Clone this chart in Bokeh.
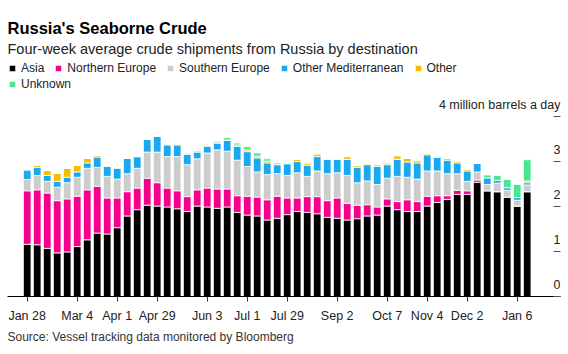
import pandas as pd
from bokeh.plotting import figure
from bokeh.models import (ColumnDataSource, Range1d, LinearAxis, FixedTicker,
                          Label, Legend, LegendItem, Title)
from bokeh.embed import file_html
from bokeh.resources import INLINE

# ---------------- data ----------------
weeks = pd.date_range("2022-01-28", periods=51, freq="7D")

asia = [1.16, 1.15, 1.07, 0.97, 0.99, 1.11, 1.26, 1.41, 1.39, 1.53,
        1.79, 1.93, 2.03, 2.01, 1.99, 1.95, 1.89, 2.01, 1.99, 1.96,
        1.99, 1.87, 1.81, 1.79, 1.70, 1.74, 1.82, 1.89, 1.87, 1.84,
        1.76, 1.74, 1.70, 1.73, 1.79, 1.81, 2.01, 1.93, 1.89, 1.89,
        2.01, 2.09, 2.16, 2.27, 2.27, 2.54, 2.35, 2.33, 2.21, 2.01, 2.33]
northern_europe = [1.19, 1.22, 1.23, 1.16, 1.18, 1.12, 1.11, 1.04, 0.80, 0.66,
                   0.54, 0.48, 0.60, 0.52, 0.42, 0.40, 0.33, 0.36, 0.42, 0.43,
                   0.40, 0.37, 0.42, 0.42, 0.45, 0.49, 0.37, 0.30, 0.35, 0.38,
                   0.37, 0.45, 0.37, 0.30, 0.25, 0.18, 0.16, 0.18, 0.26, 0.22,
                   0.22, 0.15, 0.08, 0.09, 0.08, 0.05, 0.0, 0.0, 0.0, 0.0, 0.0]
southern_europe = [0.25, 0.32, 0.26, 0.30, 0.36, 0.42, 0.48, 0.42, 0.48, 0.42,
                   0.40, 0.44, 0.58, 0.68, 0.70, 0.76, 0.71, 0.69, 0.78, 0.87,
                   0.84, 0.79, 0.66, 0.56, 0.56, 0.50, 0.50, 0.56, 0.45, 0.57,
                   0.60, 0.56, 0.62, 0.50, 0.53, 0.50, 0.46, 0.56, 0.50, 0.50,
                   0.56, 0.55, 0.49, 0.37, 0.21, 0.18, 0.14, 0.19, 0.15, 0.13, 0.15]
other_med = [0.21, 0.18, 0.13, 0.13, 0.12, 0.12, 0.12, 0.23, 0.22, 0.24,
             0.34, 0.26, 0.28, 0.35, 0.26, 0.26, 0.23, 0.15, 0.15, 0.15,
             0.24, 0.31, 0.33, 0.31, 0.26, 0.20, 0.26, 0.25, 0.25, 0.32,
             0.32, 0.30, 0.36, 0.34, 0.36, 0.40, 0.30, 0.38, 0.34, 0.36,
             0.36, 0.30, 0.30, 0.24, 0.23, 0.19, 0.15, 0.06, 0.06, 0.06, 0.05]
other = [0.02, 0.05, 0.11, 0.18, 0.20, 0.15, 0.10, 0.04, 0.03, 0.02,
         0.0, 0.0, 0.0, 0.0, 0.02, 0.02, 0.03, 0.03, 0.02, 0.01,
         0.01, 0.03, 0.04, 0.04, 0.04, 0.01, 0.02, 0.05, 0.05, 0.06,
         0.01, 0.01, 0.06, 0.04, 0.03, 0.04, 0.04, 0.08, 0.08, 0.05,
         0.03, 0.0, 0.04, 0.04, 0.04, 0.0, 0.0, 0.0, 0.0, 0.0, 0.04]
unknown = [0.0, 0.0, 0.0, 0.0, 0.0, 0.0, 0.0, 0.0, 0.0, 0.0,
           0.0, 0.0, 0.0, 0.0, 0.0, 0.0, 0.0, 0.0, 0.0, 0.03,
           0.05, 0.04, 0.07, 0.07, 0.05, 0.03, 0.0, 0.0, 0.0, 0.0,
           0.0, 0.0, 0.0, 0.0, 0.0, 0.0, 0.0, 0.0, 0.0, 0.0,
           0.0, 0.02, 0.0, 0.0, 0.0, 0.0, 0.06, 0.11, 0.18, 0.29, 0.47]

series = ["Asia", "Northern Europe", "Southern Europe",
          "Other Mediterranean", "Other", "Unknown"]
colors = ["#000000", "#f5008c", "#cccccc", "#1aa9f0", "#f7bd00", "#45e88f"]

tick_dates = ["2022-01-28", "2022-03-04", "2022-04-01", "2022-04-29",
              "2022-06-03", "2022-07-01", "2022-07-29", "2022-09-02",
              "2022-10-07", "2022-11-04", "2022-12-02", "2023-01-06"]
tick_labels = ["Jan 28", "Mar 4", "Apr 1", "Apr 29", "Jun 3", "Jul 1",
               "Jul 29", "Sep 2", "Oct 7", "Nov 4", "Dec 2", "Jan 6"]
y_ticks = [0, 1, 2, 3, 4]
y_labels = ["0", "1", "2", "3", "4 million barrels a day"]

title = "Russia's Seaborne Crude"
subtitle = "Four-week average crude shipments from Russia by destination"
source_note = "Source: Vessel tracking data monitored by Bloomberg"

# ---------------- chart ----------------
FONT = "Liberation Sans"
WEEK = 7 * 24 * 3600 * 1000
t0 = weeks[0].value / 1e6
x_start = t0 - 1.97 * WEEK
x_end = x_start + 55.3 * WEEK

src = ColumnDataSource(dict(
    date=weeks,
    **{"Asia": asia, "Northern Europe": northern_europe,
       "Southern Europe": southern_europe, "Other Mediterranean": other_med,
       "Other": other, "Unknown": unknown}))

p = figure(width=568, height=354, output_backend="svg", toolbar_location=None,
           x_axis_type="datetime", y_axis_location=None,
           x_range=Range1d(x_start, x_end), y_range=Range1d(0, 6.58),
           min_border_left=7, min_border_right=8, min_border_top=0,
           min_border_bottom=58)
p.outline_line_color = None
p.xgrid.visible = False
p.ygrid.visible = False
p.background_fill_color = "white"

renderers = p.vbar_stack(series, x="date", width=0.76 * WEEK, color=colors,
                         source=src, line_color="white", line_width=0.8)

# x axis
xa = p.xaxis[0]
tick_ms = [pd.Timestamp(d).value / 1e6 for d in tick_dates]
xa.ticker = FixedTicker(ticks=tick_ms)
xa.major_label_overrides = {t: lab for t, lab in zip(tick_ms, tick_labels)}
xa.axis_line_color = "black"
xa.axis_line_width = 1
xa.major_tick_line_color = "#333333"
xa.major_tick_out = 5
xa.major_tick_in = 0
xa.minor_tick_line_color = None
xa.major_label_standoff = 7
xa.major_label_text_font = FONT
xa.major_label_text_font_size = "12.5px"
xa.major_label_text_color = "#222222"

# y axis: tick marks only (labels drawn above the ticks)
ya = LinearAxis(ticker=FixedTicker(ticks=y_ticks), axis_line_color=None,
                major_tick_in=7, major_tick_out=0,
                major_tick_line_color="#555555",
                minor_tick_line_color=None, major_label_standoff=0,
                major_label_text_font_size="1px",
                major_label_text_color=None)
p.add_layout(ya, "right")

for v, lab in zip(y_ticks, y_labels):
    p.add_layout(Label(x=x_end, y=v, text=lab, y_offset=12, x_offset=0,
                       text_align="right", text_baseline="middle",
                       text_font=FONT, text_font_size="12.5px",
                       text_color="#222222"))

# titles
p.add_layout(Label(x=0, y=268.5, x_units="screen", y_units="screen",
                   text=title, text_font=FONT, text_font_size="16.5px",
                   text_font_style="bold", text_color="#000000",
                   text_baseline="alphabetic"))
p.add_layout(Label(x=0, y=247.5, x_units="screen", y_units="screen",
                   text=subtitle, text_font=FONT, text_font_size="14.5px",
                   text_color="#222222", text_baseline="alphabetic"))

p.add_layout(Title(text=source_note, align="left", text_font=FONT,
                   text_font_size="12px", text_font_style="normal",
                   text_color="#333333", standoff=4), "below")

# legend (two rows)
def make_legend(items, loc):
    return Legend(items=items, location=loc, orientation="horizontal",
                  glyph_width=8, glyph_height=8, label_standoff=5, spacing=10,
                  padding=0, margin=0, border_line_color=None,
                  background_fill_alpha=0, label_height=14,
                  label_text_font=FONT, label_text_font_size="12px",
                  label_text_color="#222222")

items = [LegendItem(label=s, renderers=[r]) for s, r in zip(series, renderers)]
p.add_layout(make_legend(items[:5], (1, 221.5)))
p.add_layout(make_legend(items[5:], (1, 205.5)))

open("out.html", "w").write(file_html(p, INLINE))
